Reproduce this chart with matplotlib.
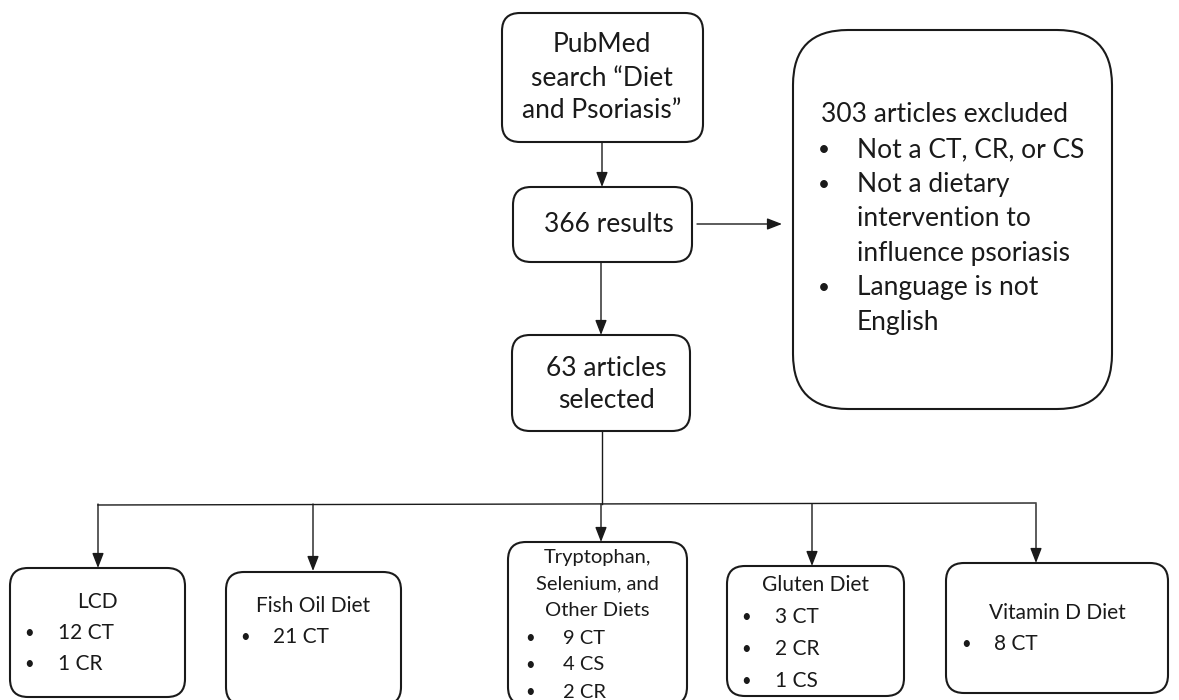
import matplotlib
matplotlib.use("Agg")
from matplotlib import pyplot as plt
from matplotlib.patches import FancyBboxPatch

# texts of the flow chart
search_lines = ["PubMed", "search \u201cDiet", "and Psoriasis\u201d"]
results_text = "366 results"
selected_lines = ["63 articles", "selected"]
excluded_title = "303 articles excluded"
excluded_reasons = [["Not a CT, CR, or CS"],
                    ["Not a dietary", "intervention to", "influence psoriasis"],
                    ["Language is not", "English"]]

diet_names = [["LCD"], ["Fish Oil Diet"], ["Tryptophan,", "Selenium, and", "Other Diets"],
              ["Gluten Diet"], ["Vitamin D Diet"]]
diet_counts = [["12 CT", "1 CR"], ["21 CT"], ["9 CT", "4 CS", "2 CR"], ["3 CT", "2 CR", "1 CS"], ["8 CT"]]

plt.rcParams['font.family'] = ['Lato', 'DejaVu Sans']

fig = plt.figure(figsize=(11.79, 7), dpi=100)
ax = fig.add_axes([0, 0, 1, 1])
ax.set_xlim(0, 1179)
ax.set_ylim(700, 0)
ax.axis('off')

ink = '#1a1a1a'
big = 19


def box(x0, y0, x1, y1, r=18):
    ax.add_patch(FancyBboxPatch((x0, y0), x1 - x0, y1 - y0,
                                boxstyle=f"round,pad=0,rounding_size={r}",
                                fc='white', ec=ink, lw=1.5, zorder=2))


def arrow(x0, y0, x1, y1):
    ax.annotate("", xy=(x1, y1), xytext=(x0, y0),
                arrowprops=dict(arrowstyle="-|>,head_length=0.9,head_width=0.35",
                                color=ink, lw=1.0, shrinkA=0, shrinkB=0), zorder=3)


# top column
box(502, 13, 703, 142)
for i, s in enumerate(search_lines):
    ax.text(602, 45 + i * 33, s, ha='center', va='center', fontsize=big, color=ink)

arrow(602, 142, 602, 187)
box(513, 187, 692, 262)
ax.text(609, 224, results_text, ha='center', va='center', fontsize=big, color=ink)

arrow(697, 224, 782, 224)
arrow(601, 262, 601, 335)

box(512, 335, 690, 431)
for i, s in enumerate(selected_lines):
    ax.text(606, 368 + i * 33, s, ha='center', va='center', fontsize=big, color=ink)

# exclusion box
box(793, 30, 1112, 409, r=55)
ax.text(821, 115, excluded_title, ha='left', va='center', fontsize=big, color=ink)
y = 150
for reason in excluded_reasons:
    ax.text(824, y, "\u2022", ha='center', va='center', fontsize=15, color=ink)
    for s in reason:
        ax.text(857, y, s, ha='left', va='center', fontsize=big, color=ink)
        y += 34.5

# branch lines
ax.plot([602, 602], [431, 504], color=ink, lw=1.0)
branch_x = [98, 313, 601, 812, 1036]
branch_tip = [568, 571, 542, 566, 563]
ax.plot([branch_x[0], branch_x[-1]], [505, 503], color=ink, lw=1.0)
for bx, by in zip(branch_x, branch_tip):
    arrow(bx, 504, bx, by)

# bottom boxes
bottom_boxes = [(10, 568, 185, 697), (226, 572, 401, 705), (508, 542, 687, 705),
                (727, 566, 904, 696), (946, 563, 1168, 693)]
title_y = [602, 606, 557, 585, 613]
title_fs = [15, 15, 14.5, 15, 15]
line_h = [31, 31, 27, 32, 31]
bullet_x = [29, 245, 530, 746, 966]
count_x = [58, 273, 563, 775, 994]

for k in range(5):
    x0, y0, x1, y1 = bottom_boxes[k]
    box(x0, y0, x1, y1, r=18)
    cx = (x0 + x1) / 2
    lines = diet_names[k]
    for j, s in enumerate(lines):
        ax.text(cx, title_y[k] + j * line_h[k], s, ha='center', va='center',
                fontsize=title_fs[k], color=ink)
    for j, c in enumerate(diet_counts[k]):
        yy = title_y[k] + (len(lines) + j) * line_h[k]
        ax.text(bullet_x[k], yy, "\u2022", ha='center', va='center', fontsize=12, color=ink)
        ax.text(count_x[k], yy, c, ha='left', va='center', fontsize=title_fs[k], color=ink)

fig.savefig("out.png", dpi=100, facecolor='white')
